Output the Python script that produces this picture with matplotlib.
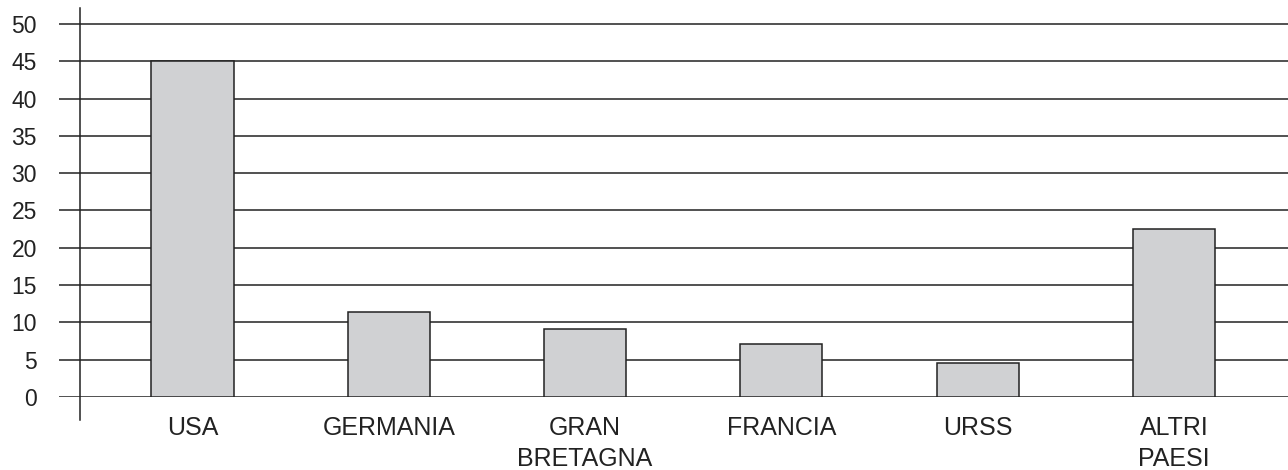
import matplotlib
matplotlib.use("Agg")
import matplotlib.pyplot as plt

paesi = ["USA", "GERMANIA", "GRAN\nBRETAGNA", "FRANCIA", "URSS", "ALTRI\nPAESI"]
quote = [45.0, 11.4, 9.1, 7.1, 4.5, 22.5]
yticks = [0, 5, 10, 15, 20, 25, 30, 35, 40, 45, 50]

plt.rcParams['font.family'] = ['Liberation Sans', 'DejaVu Sans']

fig = plt.figure(figsize=(12.88, 4.70), dpi=100)
# axes: left at px 59, right edge of figure, y=0 at px 397, top px 8
ax = fig.add_axes([59/1288, (470-397)/470, 1 - 59/1288, (397-8)/470])

ink = "#222222"
x = range(len(paesi))
ax.bar(x, quote, width=0.418, color="#d0d1d3", edgecolor=ink, linewidth=1.1, zorder=3)

for v in yticks:
    ax.axhline(v, color=ink, linewidth=1.1, zorder=1)

ax.set_xlim(-0.680, 5.581)
ax.set_ylim(0, 52.14)

# vertical axis line extending below the baseline
ax.plot([-0.573, -0.573], [-3.08, 52.14], color=ink, linewidth=1.1,
        clip_on=False, zorder=2)

for s in ax.spines.values():
    s.set_visible(False)

ax.set_yticks(yticks)
ax.set_yticklabels([str(v) for v in yticks])
ax.set_xticks(list(x))
ax.set_xticklabels(paesi, linespacing=1.35)
ax.tick_params(axis="y", length=0, pad=16, labelsize=16.5, colors=ink)
ax.tick_params(axis="x", length=0, pad=14, labelsize=18, colors=ink)

fig.savefig("out.png", dpi=100)
